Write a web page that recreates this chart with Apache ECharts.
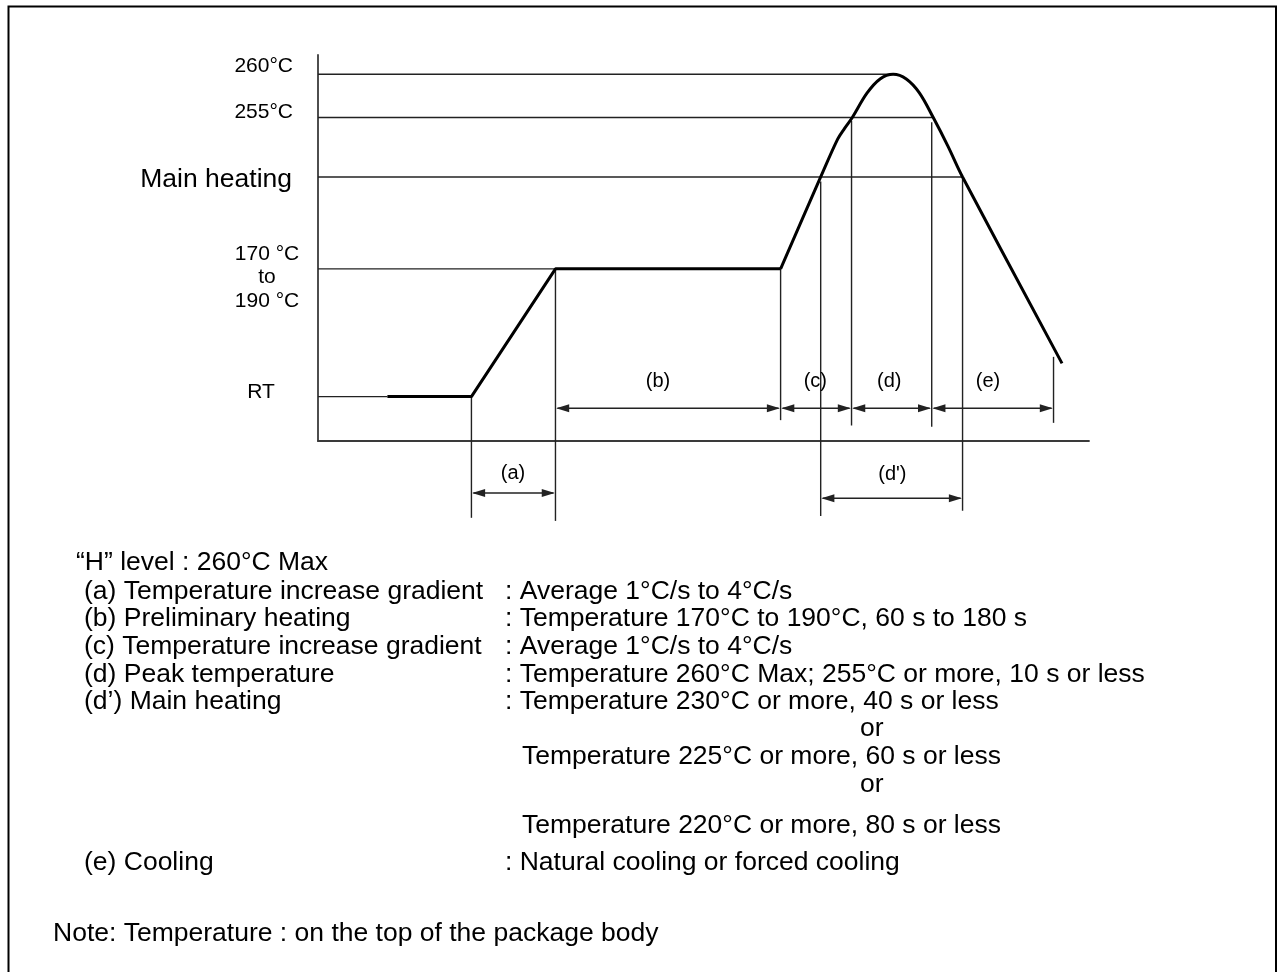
<!DOCTYPE html>
<html><head><meta charset="utf-8">
<script src="https://cdn.jsdelivr.net/npm/echarts@6/dist/echarts.min.js"></script>
<style>html,body{margin:0;padding:0;background:#fff}#c{width:1285px;height:972px}</style>
</head><body><div id="c"></div>
<script>
// Schematic units: x = time (0..100), y = temperature level (0..100)
const levelNames = ['260°C', '255°C', 'Main heating', '170 °C\nto\n190 °C', 'RT'];
const levelValues = [95.0, 83.8, 68.4, 44.6, 11.5];
const levelLineEnds = [74.6, 79.8, 83.6, 30.8, 9.0];

// reflow profile (thick curve)
const rampX = [9.0, 19.9, 30.8, 60.0];
const rampY = [11.5, 11.5, 44.6, 44.6];
const peakX = [60.0, 65.2, 67.4, 68.3, 69.3, 71.2, 72.9, 74.6, 76.3, 78.0, 79.8, 81.7, 83.6, 96.5];
const peakY = [44.6, 68.4, 78.2, 81.0, 83.8, 90.1, 93.8, 95.0, 93.8, 90.2, 83.8, 76.4, 68.4, 20.1];

// vertical extension lines
const markerX = [19.9, 30.8, 60.0, 65.2, 69.2, 79.6, 83.6, 95.4];
const markerTop = [11.5, 44.6, 44.6, 67.2, 82.9, 82.6, 68.4, 21.8];
const markerBottom = [-19.9, -20.7, 5.4, -19.4, 4.0, 3.7, -18.1, 4.7];

// dimension spans
const spanNames = ['(a)', '(b)', '(c)', '(d)', '(e)', "(d')"];
const spanStart = [19.9, 30.8, 60.0, 69.2, 79.6, 65.2];
const spanEnd = [30.8, 60.0, 69.2, 79.6, 95.4, 83.6];
const spanLevel = [-13.5, 8.5, 8.5, 8.5, 8.5, -14.8];
const spanLabelX = [25.3, 44.1, 64.5, 74.1, 86.9, 74.5];
const spanLabelY = [-8.3, 15.4, 15.4, 15.4, 15.4, -8.8];

// legend text block
const noteLeft = ['“H” level : 260°C Max', '(a) Temperature increase gradient', '(b) Preliminary heating',
  '(c) Temperature increase gradient', '(d) Peak temperature', '(d’) Main heating', '', '', '', '', '(e) Cooling'];
const noteRight = ['', ': Average 1°C/s to 4°C/s', ': Temperature 170°C to 190°C, 60 s to 180 s',
  ': Average 1°C/s to 4°C/s', ': Temperature 260°C Max; 255°C or more, 10 s or less',
  ': Temperature 230°C or more, 40 s or less', 'or', 'Temperature 225°C or more, 60 s or less', 'or',
  'Temperature 220°C or more, 80 s or less', ': Natural cooling or forced cooling'];
const footNote = 'Note: Temperature : on the top of the package body';

// ---- layout / style (not data) ----
const FONT = '"Liberation Sans", Arial, Helvetica, sans-serif';
const LINE = '#222';
const labelStyle = [
  {dx: -25, dy: -7.6, align: 'right', size: 21},
  {dx: -25, dy: -5, align: 'right', size: 21},
  {dx: -26, dy: 3, align: 'right', size: 26.5},
  {dx: -51, dy: 8.6, align: 'center', size: 21, lh: 23.5},
  {dx: -57, dy: -4.3, align: 'center', size: 21}
];
const rowY = [563, 592, 619, 647, 675, 702, 729, 757, 785, 826, 863];
const rightX = [0, 505, 505, 505, 505, 505, 860, 522, 860, 522, 505];

const chart = echarts.init(document.getElementById('c'), null, {renderer: 'canvas'});

const graphics = [{
  type: 'rect', shape: {x: 8.5, y: 6.5, width: 1267.5, height: 1000},
  style: {fill: 'none', stroke: '#000', lineWidth: 2}, z: 100
}];
noteLeft.forEach((t, i) => {
  if (t) graphics.push({type: 'text', x: i === 0 ? 76 : 84, y: rowY[i],
    style: {text: t, fontSize: 26.5, fontFamily: FONT, fill: '#000', textVerticalAlign: 'middle'}});
  if (noteRight[i]) graphics.push({type: 'text', x: rightX[i], y: rowY[i],
    style: {text: noteRight[i], fontSize: 26.5, fontFamily: FONT, fill: '#000', textVerticalAlign: 'middle'}});
});
graphics.push({type: 'text', x: 53, y: 934,
  style: {text: footNote, fontSize: 26.5, fontFamily: FONT, fill: '#000', textVerticalAlign: 'middle'}});

function arrowHead(tip, dir) {
  const L = 13, W = 4;
  return {type: 'polygon', shape: {points: [tip, [tip[0] - dir * L, tip[1] - W], [tip[0] - dir * L, tip[1] + W]]},
    style: {fill: LINE}};
}

const option = {
  animation: false,
  grid: {left: 318, right: 196, top: 55, bottom: 531},
  xAxis: {type: 'value', min: 0, max: 100, axisLine: {show: true, lineStyle: {color: '#3a3a3a', width: 1.8}},
    axisTick: {show: false}, axisLabel: {show: false}, splitLine: {show: false}},
  yAxis: {type: 'value', min: 0, max: 100, axisLine: {show: true, lineStyle: {color: '#3a3a3a', width: 1.8}},
    axisTick: {show: false}, axisLabel: {show: false}, splitLine: {show: false}},
  graphic: graphics,
  series: [
    { // horizontal level lines + labels
      type: 'custom', clip: false, z: 2,
      data: levelValues.map((v, i) => [levelLineEnds[i], v, i]),
      renderItem: (params, api) => {
        const i = api.value(2), v = api.value(1);
        const p0 = api.coord([0, v]), p1 = api.coord([api.value(0), v]);
        const s = labelStyle[i];
        return {type: 'group', children: [
          {type: 'line', shape: {x1: p0[0], y1: p0[1], x2: p1[0], y2: p1[1]}, style: {stroke: LINE, lineWidth: 1.4}},
          {type: 'text', x: p0[0] + s.dx, y: p0[1] + s.dy,
            style: {text: levelNames[i], fontSize: s.size, fontFamily: FONT, fill: '#000',
              textAlign: s.align, textVerticalAlign: 'middle', lineHeight: s.lh || s.size}}
        ]};
      }
    },
    { // vertical extension lines
      type: 'custom', clip: false, z: 2,
      data: markerX.map((x, i) => [x, markerTop[i], markerBottom[i]]),
      renderItem: (params, api) => {
        const a = api.coord([api.value(0), api.value(1)]), b = api.coord([api.value(0), api.value(2)]);
        return {type: 'line', shape: {x1: a[0], y1: a[1], x2: b[0], y2: b[1]}, style: {stroke: LINE, lineWidth: 1.4}};
      }
    },
    { // dimension arrows
      type: 'custom', clip: false, z: 3,
      data: spanStart.map((s, i) => [s, spanEnd[i], spanLevel[i], i]),
      renderItem: (params, api) => {
        const a = api.coord([api.value(0), api.value(2)]), b = api.coord([api.value(1), api.value(2)]);
        const i = api.value(3);
        const lc = api.coord([spanLabelX[i], spanLabelY[i]]);
        return {type: 'group', children: [
          {type: 'line', shape: {x1: a[0] + 2, y1: a[1], x2: b[0] - 2, y2: b[1]}, style: {stroke: LINE, lineWidth: 1.5}},
          arrowHead([a[0] + 0.7, a[1]], -1),
          arrowHead([b[0] - 0.7, b[1]], 1),
          {type: 'text', x: lc[0], y: lc[1],
            style: {text: spanNames[i], fontSize: 20, fontFamily: FONT, fill: '#000',
              textAlign: 'center', textVerticalAlign: 'middle'}}
        ]};
      }
    },
    {
      type: 'line', z: 5, symbol: 'none', lineStyle: {color: '#000', width: 3}, animation: false,
      data: rampX.map((x, i) => [x, rampY[i]])
    },
    {
      type: 'line', z: 5, symbol: 'none', smooth: 0.35, lineStyle: {color: '#000', width: 3}, animation: false,
      data: peakX.map((x, i) => [x, peakY[i]])
    }
  ]
};
chart.setOption(option);
</script>
</body></html>
